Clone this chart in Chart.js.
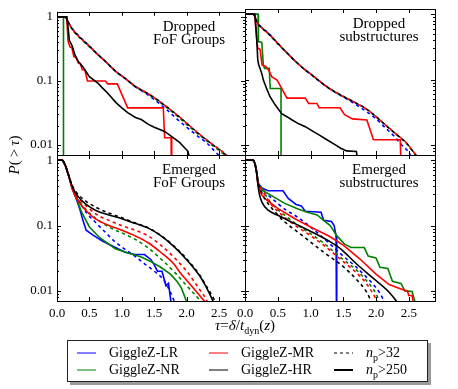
<!DOCTYPE html>
<html>
<head>
<meta charset="utf-8">
<script src="https://cdn.jsdelivr.net/npm/chart.js@4.4.1/dist/chart.umd.min.js"></script>
<style>
  body { margin: 0; background: #fff; }
  #fig { position: relative; width: 458px; height: 389px; overflow: hidden;
         font-family: 'Liberation Serif', serif; color: #000; }
  #fig canvas { position: absolute; left: 0; top: 0; }
  .txt { position: absolute; white-space: nowrap; font-size: 15px; line-height: 16px; }
  #xtitle { left: 145px; width: 200px; top: 317px; text-align: center; }
  #ytitle { left: -26px; width: 80px; top: 147px; text-align: center; transform: rotate(-90deg); }
  #legend { position: absolute; left: 67px; top: 340px; width: 361px; height: 42px;
            box-sizing: border-box; border: 1px solid #222; background: #fff;
            box-shadow: 3px 3px 0 #9a9a9a; }
  .item { position: absolute; font-size: 14px; line-height: 16px; white-space: nowrap; }
  .sw { position: absolute; }
  sub { font-size: 10px; line-height: 0; }
</style>
</head>
<body>
<div id="fig">
  <canvas id="p1" width="458" height="389"></canvas>
  <canvas id="p2" width="458" height="389"></canvas>
  <canvas id="p3" width="458" height="389"></canvas>
  <canvas id="p4" width="458" height="389"></canvas>
  <div class="txt" id="xtitle"><i>τ</i>=<i>δ</i>/<i>t</i><sub>dyn</sub>(<i>z</i>)</div>
  <div class="txt" id="ytitle"><i>P</i>(&thinsp;&gt;&thinsp;<i>τ</i>)</div>
  <div id="legend"></div>
</div>
<script>
// axis ticks
const xTicks = [0, 0.5, 1, 1.5, 2, 2.5];
const yTicks = [0.01, 0.1, 1];
const yMinorTicks = [0.008, 0.009, 0.02, 0.03, 0.04, 0.05, 0.06, 0.07, 0.08, 0.09,
                     0.2, 0.3, 0.4, 0.5, 0.6, 0.7, 0.8, 0.9];

// simulations and colours
const sims = ['LR', 'NR', 'MR', 'HR'];
const simNames = ['GiggleZ-LR', 'GiggleZ-NR', 'GiggleZ-MR', 'GiggleZ-HR'];
const simColors = { LR: '#0000ff', NR: '#008000', MR: '#ff0000', HR: '#000000' };
const dashOffsets = { LR: 5, NR: 1.5, MR: 3.3, HR: 0 };

const panelTitles = [
  ['Dropped', 'FoF Groups'],
  ['Dropped', 'substructures'],
  ['Emerged', 'FoF Groups'],
  ['Emerged', 'substructures']
];

// ---- Dropped FoF groups ----
const dropFoF_LR_32 = [[0,1],[0.12,1],[0.15,0.93],[0.19,0.77],[0.25,0.63],[0.35,0.49],[0.5,0.35],[0.61,0.27],[0.75,0.2],[0.91,0.14],[1.05,0.11],[1.21,0.081],[1.4,0.061],[1.56,0.046],[1.7,0.035],[1.86,0.025],[2.0,0.019],[2.17,0.0138],[2.3,0.011],[2.45,0.0077],[2.5,0.0068]];
const dropFoF_NR_32 = [[0,1],[0.12,1],[0.15,0.92],[0.19,0.76],[0.25,0.61],[0.35,0.47],[0.5,0.34],[0.61,0.27],[0.75,0.2],[0.91,0.14],[1.05,0.11],[1.21,0.081],[1.4,0.063],[1.56,0.049],[1.7,0.038],[1.86,0.028],[2.0,0.021],[2.17,0.015],[2.3,0.0118],[2.42,0.0095],[2.55,0.0075],[2.6,0.0068]];
const dropFoF_MR_32 = [[0,1],[0.12,1],[0.15,0.93],[0.19,0.77],[0.25,0.62],[0.35,0.48],[0.5,0.35],[0.61,0.27],[0.75,0.2],[0.91,0.14],[1.05,0.11],[1.21,0.083],[1.4,0.064],[1.56,0.05],[1.7,0.039],[1.86,0.029],[2.0,0.022],[2.17,0.0156],[2.3,0.0123],[2.42,0.0099],[2.56,0.0078],[2.63,0.0068]];
const dropFoF_HR_32 = [[0,1],[0.12,1],[0.15,0.93],[0.19,0.76],[0.25,0.62],[0.35,0.48],[0.5,0.35],[0.61,0.27],[0.75,0.2],[0.91,0.14],[1.05,0.11],[1.21,0.082],[1.4,0.064],[1.56,0.05],[1.7,0.039],[1.86,0.029],[2.0,0.022],[2.17,0.0155],[2.3,0.0122],[2.42,0.0098],[2.56,0.0077],[2.62,0.0068]];
const dropFoF_NR_250 = [[0,1],[0.1,1],[0.1,0.001]];
const dropFoF_MR_250 = [[0,1],[0.15,1],[0.17,0.42],[0.2,0.34],[0.23,0.33],[0.26,0.24],[0.29,0.235],[0.33,0.19],[0.36,0.187],[0.39,0.15],[0.43,0.148],[0.47,0.1],[0.75,0.1],[0.78,0.09],[0.93,0.09],[1.09,0.038],[1.64,0.038],[1.66,0.013],[1.76,0.013],[1.77,0.001]];
const dropFoF_HR_250 = [[0,1],[0.15,1],[0.17,0.7],[0.19,0.43],[0.23,0.36],[0.28,0.25],[0.33,0.2],[0.4,0.166],[0.5,0.117],[0.63,0.093],[0.7,0.078],[0.78,0.065],[0.91,0.046],[1.0,0.038],[1.09,0.032],[1.21,0.027],[1.3,0.025],[1.41,0.021],[1.5,0.019],[1.66,0.0163],[1.75,0.014],[1.89,0.011],[1.95,0.0095],[2.02,0.008],[2.05,0.006]];

// ---- Dropped substructures ----
const dropSub_LR_32 = [[0,1],[0.12,1],[0.15,0.92],[0.195,0.73],[0.27,0.61],[0.36,0.51],[0.51,0.35],[0.65,0.25],[0.77,0.19],[0.9,0.145],[1.03,0.115],[1.15,0.092],[1.28,0.073],[1.46,0.057],[1.65,0.044],[1.86,0.032],[2.0,0.025],[2.16,0.0175],[2.27,0.0138],[2.4,0.0098],[2.5,0.0077],[2.53,0.0068]];
const dropSub_NR_32 = [[0,1],[0.12,1],[0.15,0.92],[0.195,0.72],[0.27,0.6],[0.36,0.5],[0.51,0.34],[0.65,0.25],[0.77,0.19],[0.9,0.145],[1.03,0.116],[1.15,0.092],[1.28,0.074],[1.46,0.058],[1.65,0.046],[1.86,0.035],[2.0,0.027],[2.16,0.0195],[2.3,0.0147],[2.47,0.0104],[2.57,0.0077],[2.61,0.0068]];
const dropSub_MR_32 = [[0,1],[0.12,1],[0.15,0.92],[0.195,0.72],[0.27,0.6],[0.36,0.5],[0.51,0.35],[0.65,0.25],[0.77,0.19],[0.9,0.146],[1.03,0.116],[1.15,0.093],[1.28,0.074],[1.46,0.058],[1.65,0.046],[1.86,0.035],[2.0,0.027],[2.16,0.0196],[2.3,0.0149],[2.47,0.0106],[2.57,0.0079],[2.62,0.0068]];
const dropSub_HR_32 = [[0,1],[0.12,1],[0.15,0.92],[0.195,0.72],[0.27,0.6],[0.36,0.5],[0.51,0.35],[0.65,0.25],[0.77,0.19],[0.9,0.145],[1.03,0.115],[1.15,0.092],[1.28,0.074],[1.46,0.058],[1.65,0.046],[1.86,0.035],[2.0,0.027],[2.16,0.0195],[2.3,0.0148],[2.47,0.0105],[2.57,0.0078],[2.62,0.0068]];
const dropSub_NR_250 = [[0,1],[0.2,1],[0.205,0.38],[0.256,0.37],[0.28,0.167],[0.3,0.148],[0.37,0.148],[0.385,0.073],[0.55,0.073],[0.55,0.001]];
const dropSub_MR_250 = [[0,1],[0.15,1],[0.17,0.5],[0.195,0.3],[0.23,0.29],[0.26,0.167],[0.31,0.16],[0.36,0.14],[0.41,0.11],[0.49,0.098],[0.56,0.073],[0.64,0.052],[0.92,0.052],[0.97,0.043],[1.1,0.043],[1.13,0.037],[1.45,0.037],[1.52,0.029],[1.64,0.025],[1.86,0.024],[1.96,0.012],[2.37,0.012],[2.4,0.001]];
const dropSub_HR_250 = [[0,1],[0.15,1],[0.175,0.5],[0.195,0.2],[0.21,0.167],[0.23,0.148],[0.26,0.12],[0.28,0.098],[0.33,0.073],[0.38,0.055],[0.46,0.041],[0.56,0.03],[0.64,0.027],[0.72,0.024],[0.82,0.021],[0.92,0.019],[1.02,0.0165],[1.13,0.0142],[1.25,0.012],[1.38,0.01],[1.46,0.0089],[1.55,0.0081],[1.7,0.0079],[1.72,0.006]];

// ---- Emerged FoF groups ----
const emFoF_LR_32 = [[0,1],[0.08,1],[0.13,0.82],[0.18,0.58],[0.23,0.4],[0.3,0.28],[0.45,0.16],[0.6,0.11],[0.75,0.078],[0.9,0.056],[1.05,0.043],[1.2,0.034],[1.35,0.026],[1.5,0.02],[1.65,0.0145],[1.75,0.0095],[1.82,0.0065]];
const emFoF_NR_32 = [[0,1],[0.08,1],[0.13,0.82],[0.18,0.58],[0.23,0.4],[0.3,0.27],[0.4,0.2],[0.5,0.155],[0.6,0.128],[0.8,0.095],[1.0,0.077],[1.2,0.062],[1.4,0.046],[1.6,0.031],[1.8,0.02],[2.0,0.012],[2.2,0.0072],[2.23,0.0065]];
const emFoF_MR_32 = [[0,1],[0.08,1],[0.13,0.82],[0.18,0.58],[0.23,0.4],[0.3,0.29],[0.45,0.2],[0.6,0.15],[0.8,0.12],[1.0,0.1],[1.2,0.085],[1.4,0.07],[1.6,0.05],[1.8,0.033],[2.0,0.02],[2.2,0.0105],[2.3,0.0075],[2.33,0.0065]];
const emFoF_HR_32 = [[0,1],[0.08,1],[0.13,0.83],[0.18,0.59],[0.23,0.42],[0.3,0.32],[0.45,0.235],[0.6,0.19],[0.8,0.155],[1.0,0.132],[1.2,0.11],[1.4,0.093],[1.6,0.071],[1.8,0.049],[2.0,0.031],[2.2,0.0175],[2.3,0.012],[2.42,0.0075],[2.45,0.0065]];
const emFoF_LR_250 = [[0,1],[0.08,1],[0.13,0.82],[0.18,0.58],[0.23,0.38],[0.3,0.25],[0.35,0.18],[0.4,0.12],[0.45,0.085],[0.55,0.072],[0.7,0.058],[0.9,0.046],[1.05,0.039],[1.2,0.036],[1.35,0.036],[1.45,0.03],[1.5,0.025],[1.55,0.02],[1.62,0.02],[1.68,0.012],[1.72,0.013],[1.76,0.0065]];
const emFoF_NR_250 = [[0,1],[0.08,1],[0.13,0.82],[0.18,0.58],[0.23,0.38],[0.3,0.26],[0.38,0.16],[0.5,0.095],[0.66,0.065],[0.9,0.044],[1.1,0.038],[1.3,0.033],[1.45,0.028],[1.6,0.023],[1.75,0.018],[1.85,0.014],[1.92,0.011],[2.0,0.0068]];
const emFoF_MR_250 = [[0,1],[0.08,1],[0.13,0.82],[0.18,0.58],[0.23,0.38],[0.3,0.26],[0.4,0.19],[0.5,0.15],[0.6,0.125],[0.8,0.1],[1.0,0.085],[1.2,0.07],[1.4,0.055],[1.6,0.039],[1.8,0.026],[1.9,0.019],[2.0,0.0145],[2.2,0.0085],[2.3,0.0065]];
const emFoF_HR_250 = [[0,1],[0.08,1],[0.13,0.82],[0.18,0.58],[0.23,0.41],[0.3,0.3],[0.45,0.21],[0.6,0.17],[0.8,0.145],[1.0,0.127],[1.2,0.108],[1.4,0.092],[1.6,0.07],[1.8,0.048],[2.0,0.03],[2.2,0.017],[2.3,0.0115],[2.4,0.0072],[2.42,0.0065]];

// ---- Emerged substructures ----
const emSub_LR_32 = [[0,1],[0.12,1],[0.15,0.9],[0.18,0.65],[0.2,0.47],[0.25,0.38],[0.3,0.33],[0.45,0.24],[0.6,0.18],[0.8,0.135],[1.0,0.095],[1.2,0.064],[1.5,0.034],[1.7,0.023],[1.9,0.0145],[2.05,0.0095],[2.13,0.0068]];
const emSub_NR_32 = [[0,1],[0.12,1],[0.15,0.9],[0.18,0.65],[0.2,0.46],[0.25,0.37],[0.3,0.31],[0.4,0.22],[0.6,0.145],[0.8,0.102],[1.0,0.075],[1.2,0.054],[1.5,0.03],[1.7,0.021],[1.85,0.0145],[2.0,0.009],[2.05,0.0068]];
const emSub_MR_32 = [[0,1],[0.12,1],[0.15,0.9],[0.18,0.65],[0.2,0.46],[0.25,0.36],[0.3,0.3],[0.4,0.21],[0.6,0.135],[0.8,0.095],[1.0,0.07],[1.2,0.05],[1.5,0.028],[1.7,0.019],[1.85,0.013],[2.0,0.0075],[2.02,0.0068]];
const emSub_HR_32 = [[0,1],[0.12,1],[0.15,0.9],[0.18,0.64],[0.2,0.45],[0.25,0.33],[0.3,0.26],[0.45,0.165],[0.6,0.115],[0.8,0.08],[1.0,0.056],[1.2,0.039],[1.5,0.0235],[1.7,0.015],[1.85,0.0098],[1.93,0.0068]];
const emSub_LR_250 = [[0,1],[0.12,1],[0.15,0.9],[0.18,0.65],[0.2,0.45],[0.25,0.38],[0.35,0.34],[0.58,0.34],[0.66,0.26],[0.78,0.21],[0.86,0.2],[0.92,0.165],[1.16,0.16],[1.2,0.12],[1.32,0.115],[1.36,0.1],[1.39,0.07],[1.4,0.07],[1.4,0.001]];
const emSub_NR_250 = [[0,1],[0.12,1],[0.15,0.9],[0.18,0.65],[0.2,0.42],[0.3,0.33],[0.45,0.27],[0.6,0.22],[0.8,0.18],[0.95,0.16],[1.1,0.145],[1.2,0.12],[1.3,0.1],[1.4,0.07],[1.45,0.062],[1.52,0.052],[1.62,0.046],[1.82,0.046],[1.88,0.034],[2.0,0.032],[2.06,0.023],[2.18,0.022],[2.25,0.014],[2.38,0.013],[2.44,0.01],[2.55,0.0098],[2.6,0.0065]];
const emSub_MR_250 = [[0,1],[0.12,1],[0.15,0.9],[0.18,0.62],[0.2,0.42],[0.25,0.3],[0.31,0.255],[0.51,0.18],[0.77,0.126],[1.0,0.095],[1.28,0.069],[1.5,0.05],[1.75,0.031],[2.0,0.018],[2.2,0.0125],[2.35,0.011],[2.48,0.0099],[2.5,0.0085],[2.55,0.0085],[2.57,0.0065]];
const emSub_HR_250 = [[0,1],[0.12,1],[0.15,0.88],[0.18,0.6],[0.2,0.4],[0.22,0.3],[0.26,0.226],[0.36,0.17],[0.51,0.142],[0.77,0.106],[1.03,0.079],[1.28,0.058],[1.46,0.044],[1.7,0.026],[1.96,0.0155],[2.21,0.0093],[2.32,0.0068]];

// frame, inward ticks and panel label
const panelFrame = {
  id: 'panelFrame',
  afterDatasetsDraw(chart, args, opts) {
    const ctx = chart.ctx;
    const a = chart.chartArea;
    const xs = chart.scales.x, ys = chart.scales.y;
    ctx.save();
    ctx.strokeStyle = '#000';
    ctx.lineWidth = 1;
    ctx.beginPath();
    xTicks.forEach(v => {
      const p = Math.round(xs.getPixelForValue(v)) + 0.5;
      ctx.moveTo(p, a.bottom); ctx.lineTo(p, a.bottom - 4);
      ctx.moveTo(p, a.top); ctx.lineTo(p, a.top + 4);
    });
    yTicks.forEach(v => {
      const p = Math.round(ys.getPixelForValue(v)) + 0.5;
      ctx.moveTo(a.left, p); ctx.lineTo(a.left + 4, p);
      ctx.moveTo(a.right, p); ctx.lineTo(a.right - 4, p);
    });
    yMinorTicks.forEach(v => {
      const p = Math.round(ys.getPixelForValue(v)) + 0.5;
      ctx.moveTo(a.left, p); ctx.lineTo(a.left + 2, p);
      ctx.moveTo(a.right, p); ctx.lineTo(a.right - 2, p);
    });
    ctx.stroke();
    ctx.strokeRect(Math.round(a.left) + 0.5, Math.round(a.top) + 0.5,
                   Math.round(a.right - a.left), Math.round(a.bottom - a.top));
    ctx.fillStyle = '#000';
    ctx.font = '15px "Liberation Serif", serif';
    ctx.textAlign = 'center';
    ctx.textBaseline = 'middle';
    opts.lines.forEach((t, i) => ctx.fillText(t, a.right - 56, a.top + 15 + 13.5 * i));
    ctx.restore();
  }
};

Chart.defaults.font.family = "'Liberation Serif', serif";
Chart.defaults.font.size = 13;
Chart.defaults.color = '#000';

function lineSet(data, sim, np, smooth) {
  return {
    data: data,
    borderColor: simColors[sim],
    borderWidth: 1.6,
    borderDash: np === 32 ? [3.3, 3.3] : [],
    borderDashOffset: np === 32 ? dashOffsets[sim] : 0,
    pointRadius: 0,
    fill: false,
    tension: 0,
    cubicInterpolationMode: smooth ? 'monotone' : 'default'
  };
}

// box = plot area in page pixels
function makePanel(id, datasets, box, showX, showY, lines) {
  new Chart(document.getElementById(id), {
    type: 'line',
    data: { datasets: datasets },
    plugins: [panelFrame],
    options: {
      responsive: false,
      animation: false,
      events: [],
      layout: {
        padding: {
          left: showY ? 0 : box.l,
          right: 458 - box.r,
          top: box.t,
          bottom: showX ? 389 - box.b - 24 : 389 - box.b
        }
      },
      plugins: { legend: { display: false }, tooltip: { enabled: false },
                 panelFrame: { lines: lines } },
      scales: {
        x: {
          type: 'linear', min: 0, max: 2.9, display: showX,
          grid: { display: false, drawTicks: false }, border: { display: false },
          afterBuildTicks: s => { s.ticks = xTicks.map(v => ({ value: v })); },
          afterFit: s => { s.height = showX ? 24 : 0; },
          ticks: { autoSkip: false, maxRotation: 0, padding: 5,
                   callback: v => Number(v).toFixed(1) }
        },
        y: {
          type: 'logarithmic', min: 0.007, max: 1.2, display: showY,
          grid: { display: false, drawTicks: false }, border: { display: false },
          afterBuildTicks: s => { s.ticks = yTicks.map(v => ({ value: v })); },
          afterFit: s => { s.width = showY ? box.l : 0; },
          ticks: { autoSkip: false, padding: 4, callback: v => String(v) }
        }
      }
    }
  });
}

makePanel('p1', [
  lineSet(dropFoF_HR_250, 'HR', 250, false),
  lineSet(dropFoF_HR_32, 'HR', 32, true),
  lineSet(dropFoF_MR_250, 'MR', 250, false),
  lineSet(dropFoF_MR_32, 'MR', 32, true),
  lineSet(dropFoF_NR_250, 'NR', 250, false),
  lineSet(dropFoF_NR_32, 'NR', 32, true),
  lineSet(dropFoF_LR_32, 'LR', 32, true)
], { l: 57, r: 245, t: 9, b: 155 }, false, true, panelTitles[0]);

makePanel('p2', [
  lineSet(dropSub_HR_250, 'HR', 250, false),
  lineSet(dropSub_HR_32, 'HR', 32, true),
  lineSet(dropSub_MR_250, 'MR', 250, false),
  lineSet(dropSub_MR_32, 'MR', 32, true),
  lineSet(dropSub_NR_250, 'NR', 250, false),
  lineSet(dropSub_NR_32, 'NR', 32, true),
  lineSet(dropSub_LR_32, 'LR', 32, true)
], { l: 245, r: 435, t: 9, b: 155 }, false, false, panelTitles[1]);

makePanel('p3', [
  lineSet(emFoF_HR_250, 'HR', 250, true),
  lineSet(emFoF_HR_32, 'HR', 32, true),
  lineSet(emFoF_MR_250, 'MR', 250, true),
  lineSet(emFoF_MR_32, 'MR', 32, true),
  lineSet(emFoF_NR_250, 'NR', 250, false),
  lineSet(emFoF_NR_32, 'NR', 32, true),
  lineSet(emFoF_LR_250, 'LR', 250, false),
  lineSet(emFoF_LR_32, 'LR', 32, true)
], { l: 57, r: 245, t: 155, b: 301 }, true, true, panelTitles[2]);

makePanel('p4', [
  lineSet(emSub_HR_250, 'HR', 250, true),
  lineSet(emSub_HR_32, 'HR', 32, true),
  lineSet(emSub_MR_250, 'MR', 250, false),
  lineSet(emSub_MR_32, 'MR', 32, true),
  lineSet(emSub_NR_250, 'NR', 250, false),
  lineSet(emSub_NR_32, 'NR', 32, true),
  lineSet(emSub_LR_250, 'LR', 250, false),
  lineSet(emSub_LR_32, 'LR', 32, true)
], { l: 245, r: 435, t: 155, b: 301 }, true, false, panelTitles[3]);

// legend: simulations in two columns, particle cuts in the third
const legend = document.getElementById('legend');
const colX = [9, 141];
const rowY = [4, 21];
function swatch(x, y, color, width, dash) {
  return '<svg class="sw" style="left:' + x + 'px;top:' + y + 'px" width="20" height="8">' +
         '<line x1="0" y1="4" x2="19" y2="4" stroke="' + color + '" stroke-width="' + width + '"' +
         (dash ? ' stroke-dasharray="' + dash + '"' : '') + '/></svg>';
}
let html = '';
sims.forEach((s, i) => {
  const cx = colX[Math.floor(i / 2)], cy = rowY[i % 2];
  html += swatch(cx, cy + 4, simColors[s], 1, null);
  html += '<div class="item" style="left:' + (cx + 32) + 'px;top:' + cy + 'px">' + simNames[i] + '</div>';
});
html += swatch(266, rowY[0] + 4, '#000', 1.2, '3,3');
html += '<div class="item" style="left:298px;top:' + rowY[0] + 'px"><i>n</i><sub>p</sub>&gt;32</div>';
html += swatch(266, rowY[1] + 4, '#000', 2, null);
html += '<div class="item" style="left:298px;top:' + rowY[1] + 'px"><i>n</i><sub>p</sub>&gt;250</div>';
legend.innerHTML = html;
</script>
</body>
</html>
